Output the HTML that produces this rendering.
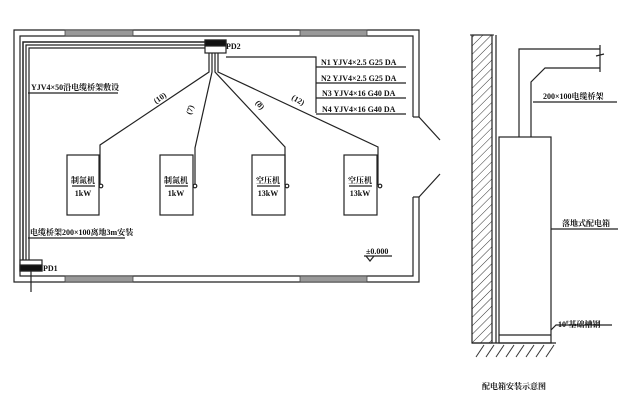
<!DOCTYPE html>
<html><head><meta charset="utf-8"><style>
html,body{margin:0;padding:0;background:#fff;}
svg{display:block;font-family:"Liberation Serif","Noto Serif CJK SC",serif;}
text{fill:#111;font-size:8px;font-weight:bold;}
</style></head><body>
<svg width="638" height="403" viewBox="0 0 638 403" xmlns="http://www.w3.org/2000/svg">
<defs>
<pattern id="h" width="6" height="6" patternUnits="userSpaceOnUse" patternTransform="rotate(45)">
<line x1="0" y1="0" x2="0" y2="6" stroke="#333" stroke-width="1"/></pattern>
</defs>
<g stroke="#222" fill="none" stroke-width="1.2">
<path d="M419,117 V30 H14 V282 H419 V197"/>
<path d="M413,117 V36 H20 V276 H413 V197"/>
<line x1="413" y1="117" x2="419" y2="117"/>
<line x1="413" y1="197" x2="419" y2="197"/>
<line x1="419" y1="117" x2="440" y2="140"/>
<line x1="419" y1="197" x2="440" y2="174"/>
</g>
<g fill="#999" stroke="#444" stroke-width="0.8">
<rect x="65" y="30" width="68" height="6"/>
<rect x="300" y="30" width="67" height="6"/>
<rect x="65" y="276" width="68" height="6"/>
<rect x="300" y="276" width="67" height="6"/>
</g>
<g stroke="#222" fill="none" stroke-width="1.2">
<path d="M205,42 H23 V262" stroke-width="1.5"/>
<path d="M205,45 H26 V262"/>
<path d="M205,48 H29 V262"/>
<rect x="205" y="40" width="21" height="13" fill="#fff"/>
<rect x="205" y="40" width="21" height="6" fill="#111"/>
<rect x="20" y="260" width="22" height="11" fill="#fff"/>
<rect x="20" y="265" width="22" height="6" fill="#111"/>
<line x1="31" y1="271" x2="31" y2="292"/>
<path d="M209,53 V72 L100,145 V185"/>
<path d="M212,53 V72 L195,148 V185"/>
<path d="M215,53 V72 L285,147 V185"/>
<path d="M218,53 V72 L378,147 V185"/>
<path d="M226,57 H316 V113"/>
<line x1="316" y1="67" x2="406" y2="67"/>
<line x1="316" y1="83" x2="406" y2="83"/>
<line x1="316" y1="98" x2="406" y2="98"/>
<line x1="316" y1="114" x2="406" y2="114"/>
<rect x="67" y="155" width="32" height="60"/>
<rect x="160" y="155" width="33" height="60"/>
<rect x="252" y="155" width="33" height="60"/>
<rect x="344" y="155" width="33" height="60"/>
<line x1="72" y1="186" x2="95" y2="186"/>
<line x1="165" y1="186" x2="188" y2="186"/>
<line x1="257" y1="186" x2="280" y2="186"/>
<line x1="349" y1="186" x2="372" y2="186"/>
<circle cx="101" cy="186" r="1.8" fill="#fff"/>
<circle cx="195" cy="186" r="1.8" fill="#fff"/>
<circle cx="287" cy="186" r="1.8" fill="#fff"/>
<circle cx="380" cy="186" r="1.8" fill="#fff"/>
<line x1="28" y1="93" x2="118" y2="93"/>
<line x1="28" y1="238" x2="125" y2="238"/>
<line x1="364" y1="256" x2="392" y2="256"/>
<path d="M366,256 L370,261 L374,256"/>
</g>
<text x="226" y="49">PD2</text>
<text x="43" y="271">PD1</text>
<text x="321" y="65">N1 YJV4×2.5 G25 DA</text>
<text x="321" y="81">N2 YJV4×2.5 G25 DA</text>
<text x="322" y="96">N3 YJV4×16 G40 DA</text>
<text x="322" y="112">N4 YJV4×16 G40 DA</text>
<text x="31" y="90">YJV4×50沿电缆桥架敷设</text>
<text x="30" y="235">电缆桥架200×100离地3m安装</text>
<text x="366" y="254">±0.000</text>
<text transform="translate(156,104) rotate(-35)">(10)</text>
<text transform="translate(191,115) rotate(-72)">(7)</text>
<text transform="translate(255,103) rotate(50)">(8)</text>
<text transform="translate(291,99) rotate(30)">(12)</text>
<g text-anchor="middle">
<text x="83" y="183">制氮机</text><text x="83" y="196">1kW</text>
<text x="176" y="183">制氮机</text><text x="176" y="196">1kW</text>
<text x="268" y="183">空压机</text><text x="268" y="196">13kW</text>
<text x="360" y="183">空压机</text><text x="360" y="196">13kW</text>
</g>
<rect x="472" y="35" width="20" height="308" fill="url(#h)" stroke="#222" stroke-width="1.2"/>
<line x1="496" y1="35" x2="496" y2="343" stroke="#222" stroke-width="1.2"/>
<line x1="470" y1="35" x2="494" y2="35" stroke="#222"/>
<g stroke="#222" fill="none" stroke-width="1.2">
<rect x="499" y="137" width="52" height="206" fill="#fff"/>
<line x1="499" y1="335" x2="551" y2="335"/>
<line x1="472" y1="343" x2="556" y2="343"/>
<path d="M519,137 V49 H600"/>
<path d="M531,137 V82 L545,68 H600"/>
<path d="M600,45 V72 M596,56 L604,54"/>
<path d="M533,102 H617"/>
<path d="M551,229 H618"/>
<path d="M551,330 L556,325 H612"/>
</g>
<g stroke="#333">
<line x1="476" y1="357" x2="484" y2="345"/><line x1="486" y1="357" x2="494" y2="345"/>
<line x1="496" y1="357" x2="504" y2="345"/><line x1="506" y1="357" x2="514" y2="345"/>
<line x1="516" y1="357" x2="524" y2="345"/><line x1="526" y1="357" x2="534" y2="345"/>
<line x1="536" y1="357" x2="544" y2="345"/><line x1="546" y1="357" x2="554" y2="345"/>
</g>
<text x="543" y="99" font-size="7.5">200×100电缆桥架</text>
<text x="562" y="226" font-size="7.5">落地式配电箱</text>
<text x="558" y="327" font-size="7">10<tspan font-size="5" dy="-3">#</tspan><tspan dy="3">基础槽钢</tspan></text>
<text x="482" y="389">配电箱安装示意图</text>
</svg>
</body></html>
